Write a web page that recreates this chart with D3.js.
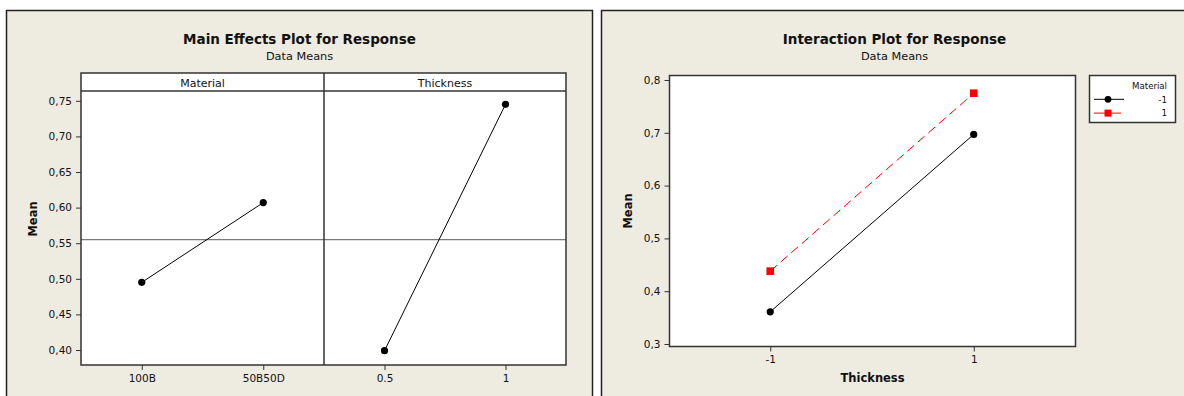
<!DOCTYPE html>
<html>
<head>
<meta charset="utf-8">
<script src="https://cdn.jsdelivr.net/npm/d3@7"></script>
<style>
  html, body { margin: 0; padding: 0; background: #ffffff; }
  svg { display: block; }
  text { font-family: "DejaVu Sans", Verdana, sans-serif; fill: #111; }
</style>
</head>
<body>
<svg id="chart" width="1184" height="396"></svg>
<script>
// Main effects: factor levels and their mean responses
const materialLevels = ["100B", "50B50D"];
const materialMeans = [0.495, 0.607];
const thicknessLevels = ["0.5", "1"];
const thicknessMeans = [0.399, 0.745];
const grandMean = 0.555;
const mainYTicks = [0.40, 0.45, 0.50, 0.55, 0.60, 0.65, 0.70, 0.75];

// Interaction: Thickness (coded) by Material (coded)
const interThickness = [-1, 1];
const interMaterialLevels = ["-1", "1"];
const interMeansMatMinus = [0.361, 0.697];
const interMeansMatPlus = [0.438, 0.775];
const interYTicks = [0.3, 0.4, 0.5, 0.6, 0.7, 0.8];

const BG = "#EEEBE1";
const FRAME = "#222";
const AXIS = "#333";

const commaLocale = d3.formatLocale({ decimal: ",", thousands: ".", grouping: [3], currency: ["", ""] });
const fmt2 = commaLocale.format(".2f");
const fmt1 = commaLocale.format(".1f");

const svg = d3.select("#chart");

// Panel backgrounds with frames
svg.append("rect").attr("x", 6.5).attr("y", 10.5).attr("width", 586).attr("height", 400)
  .attr("fill", BG).attr("stroke", FRAME).attr("stroke-width", 1.5);
svg.append("rect").attr("x", 601.5).attr("y", 10.5).attr("width", 600).attr("height", 400)
  .attr("fill", BG).attr("stroke", FRAME).attr("stroke-width", 1.5);

function titles(cx, title) {
  svg.append("text").attr("x", cx).attr("y", 44).attr("text-anchor", "middle")
    .attr("font-size", 13.5).attr("font-weight", "bold").text(title);
  svg.append("text").attr("x", cx).attr("y", 59.5).attr("text-anchor", "middle")
    .attr("font-size", 11.3).text("Data Means");
}

function styleAxis(g) {
  g.select(".domain").remove();
  g.selectAll(".tick line").attr("stroke", AXIS);
  g.selectAll(".tick text").attr("font-size", 10.5).attr("fill", "#111")
    .attr("font-family", "DejaVu Sans, Verdana, sans-serif");
}

// ---------------- Main Effects Plot ----------------
titles(299.5, "Main Effects Plot for Response");

const mLeft = 81, mRight = 566, mDiv = 324, mStripTop = 73, mTop = 91, mBottom = 365;
const yMain = d3.scaleLinear().domain([0.40, 0.75]).range([350, 100.8]);

// plot area and strips
svg.append("rect").attr("x", mLeft).attr("y", mStripTop).attr("width", mRight - mLeft)
  .attr("height", mBottom - mStripTop).attr("fill", "#fff");

const panels = [
  { name: "Material", levels: materialLevels, means: materialMeans, x0: mLeft, x1: mDiv },
  { name: "Thickness", levels: thicknessLevels, means: thicknessMeans, x0: mDiv, x1: mRight }
];

// grand mean reference line
svg.append("line").attr("x1", mLeft).attr("x2", mRight)
  .attr("y1", yMain(grandMean)).attr("y2", yMain(grandMean))
  .attr("stroke", "#7a7a7a").attr("stroke-width", 1.2);

panels.forEach(p => {
  const x = d3.scalePoint().domain(p.levels).range([p.x0, p.x1]).padding(0.5);
  svg.append("text").attr("x", (p.x0 + p.x1) / 2).attr("y", 86.5).attr("text-anchor", "middle")
    .attr("font-size", 11).text(p.name);

  const line = d3.line().x((d, i) => x(p.levels[i])).y(d => yMain(d));
  svg.append("path").datum(p.means).attr("d", line).attr("fill", "none")
    .attr("stroke", "#000").attr("stroke-width", 1);
  svg.selectAll(null).data(p.means).enter().append("circle")
    .attr("cx", (d, i) => x(p.levels[i])).attr("cy", d => yMain(d)).attr("r", 3.6).attr("fill", "#000");

  const gx = svg.append("g").attr("transform", `translate(0,${mBottom})`)
    .call(d3.axisBottom(x).tickSize(5).tickPadding(5));
  styleAxis(gx);
});

// strip separator & frames
svg.append("line").attr("x1", mLeft).attr("x2", mRight).attr("y1", mTop).attr("y2", mTop)
  .attr("stroke", AXIS).attr("stroke-width", 1.5);
svg.append("line").attr("x1", mDiv).attr("x2", mDiv).attr("y1", mStripTop).attr("y2", mBottom)
  .attr("stroke", AXIS).attr("stroke-width", 1.5);
svg.append("rect").attr("x", mLeft).attr("y", mStripTop).attr("width", mRight - mLeft)
  .attr("height", mBottom - mStripTop).attr("fill", "none").attr("stroke", AXIS).attr("stroke-width", 1.5);

const gyMain = svg.append("g").attr("transform", `translate(${mLeft},0)`)
  .call(d3.axisLeft(yMain).tickValues(mainYTicks).tickFormat(fmt2).tickSize(5).tickPadding(4));
styleAxis(gyMain);

svg.append("text").attr("transform", `translate(37,${(mStripTop + mBottom) / 2}) rotate(-90)`)
  .attr("text-anchor", "middle").attr("font-size", 11.5).attr("font-weight", "bold").text("Mean");

// ---------------- Interaction Plot ----------------
titles(894.5, "Interaction Plot for Response");

const iLeft = 669.5, iRight = 1075.5, iTop = 75.5, iBottom = 346.5;
const xInt = d3.scaleLinear().domain([-2, 2]).range([668.5, 1075.5]);
const yInt = d3.scaleLinear().domain([0.3, 0.8]).range([344, 80]);

svg.append("rect").attr("x", iLeft).attr("y", iTop).attr("width", iRight - iLeft)
  .attr("height", iBottom - iTop).attr("fill", "#fff").attr("stroke", AXIS).attr("stroke-width", 1.5);

const series = [
  { key: interMaterialLevels[0], values: interMeansMatMinus, color: "#000", dash: null, shape: "circle" },
  { key: interMaterialLevels[1], values: interMeansMatPlus, color: "#ff0000", dash: "9,5", shape: "square" }
];

const iLine = d3.line().x((d, i) => xInt(interThickness[i])).y(d => yInt(d));
series.forEach(s => {
  svg.append("path").datum(s.values).attr("d", iLine).attr("fill", "none")
    .attr("stroke", s.color).attr("stroke-width", 1).attr("stroke-dasharray", s.dash);
  if (s.shape === "circle") {
    svg.selectAll(null).data(s.values).enter().append("circle")
      .attr("cx", (d, i) => xInt(interThickness[i])).attr("cy", d => yInt(d))
      .attr("r", 3.6).attr("fill", s.color);
  } else {
    svg.selectAll(null).data(s.values).enter().append("rect")
      .attr("x", (d, i) => xInt(interThickness[i]) - 3.8).attr("y", d => yInt(d) - 3.8)
      .attr("width", 7.6).attr("height", 7.6).attr("fill", s.color);
  }
});

const gxInt = svg.append("g").attr("transform", `translate(0,${iBottom})`)
  .call(d3.axisBottom(xInt).tickValues(interThickness).tickFormat(d => String(d)).tickSize(5).tickPadding(4));
styleAxis(gxInt);
const gyInt = svg.append("g").attr("transform", `translate(${iLeft},0)`)
  .call(d3.axisLeft(yInt).tickValues(interYTicks).tickFormat(fmt1).tickSize(5).tickPadding(4));
styleAxis(gyInt);

svg.append("text").attr("transform", `translate(632,${(iTop + iBottom) / 2}) rotate(-90)`)
  .attr("text-anchor", "middle").attr("font-size", 11.5).attr("font-weight", "bold").text("Mean");
svg.append("text").attr("x", (iLeft + iRight) / 2).attr("y", 382)
  .attr("text-anchor", "middle").attr("font-size", 11.5).attr("font-weight", "bold").text("Thickness");

// legend
const lg = svg.append("g");
lg.append("rect").attr("x", 1089.5).attr("y", 75.5).attr("width", 86).attr("height", 47)
  .attr("fill", "#fff").attr("stroke", AXIS).attr("stroke-width", 1.5);
lg.append("text").attr("x", 1167).attr("y", 88.5).attr("text-anchor", "end")
  .attr("font-size", 8.6).text("Material");
series.forEach((s, i) => {
  const cy = 99.3 + i * 13.8;
  lg.append("line").attr("x1", 1094).attr("x2", i === 0 ? 1124 : 1121).attr("y1", cy).attr("y2", cy)
    .attr("stroke", s.color).attr("stroke-width", 1);
  if (s.shape === "circle") {
    lg.append("circle").attr("cx", 1108).attr("cy", cy).attr("r", 3.4).attr("fill", s.color);
  } else {
    lg.append("rect").attr("x", 1108 - 3.5).attr("y", cy - 3.5).attr("width", 7).attr("height", 7).attr("fill", s.color);
  }
  lg.append("text").attr("x", 1167).attr("y", cy + 3.2).attr("text-anchor", "end")
    .attr("font-size", 8.8).text(s.key);
});
</script>
</body>
</html>
